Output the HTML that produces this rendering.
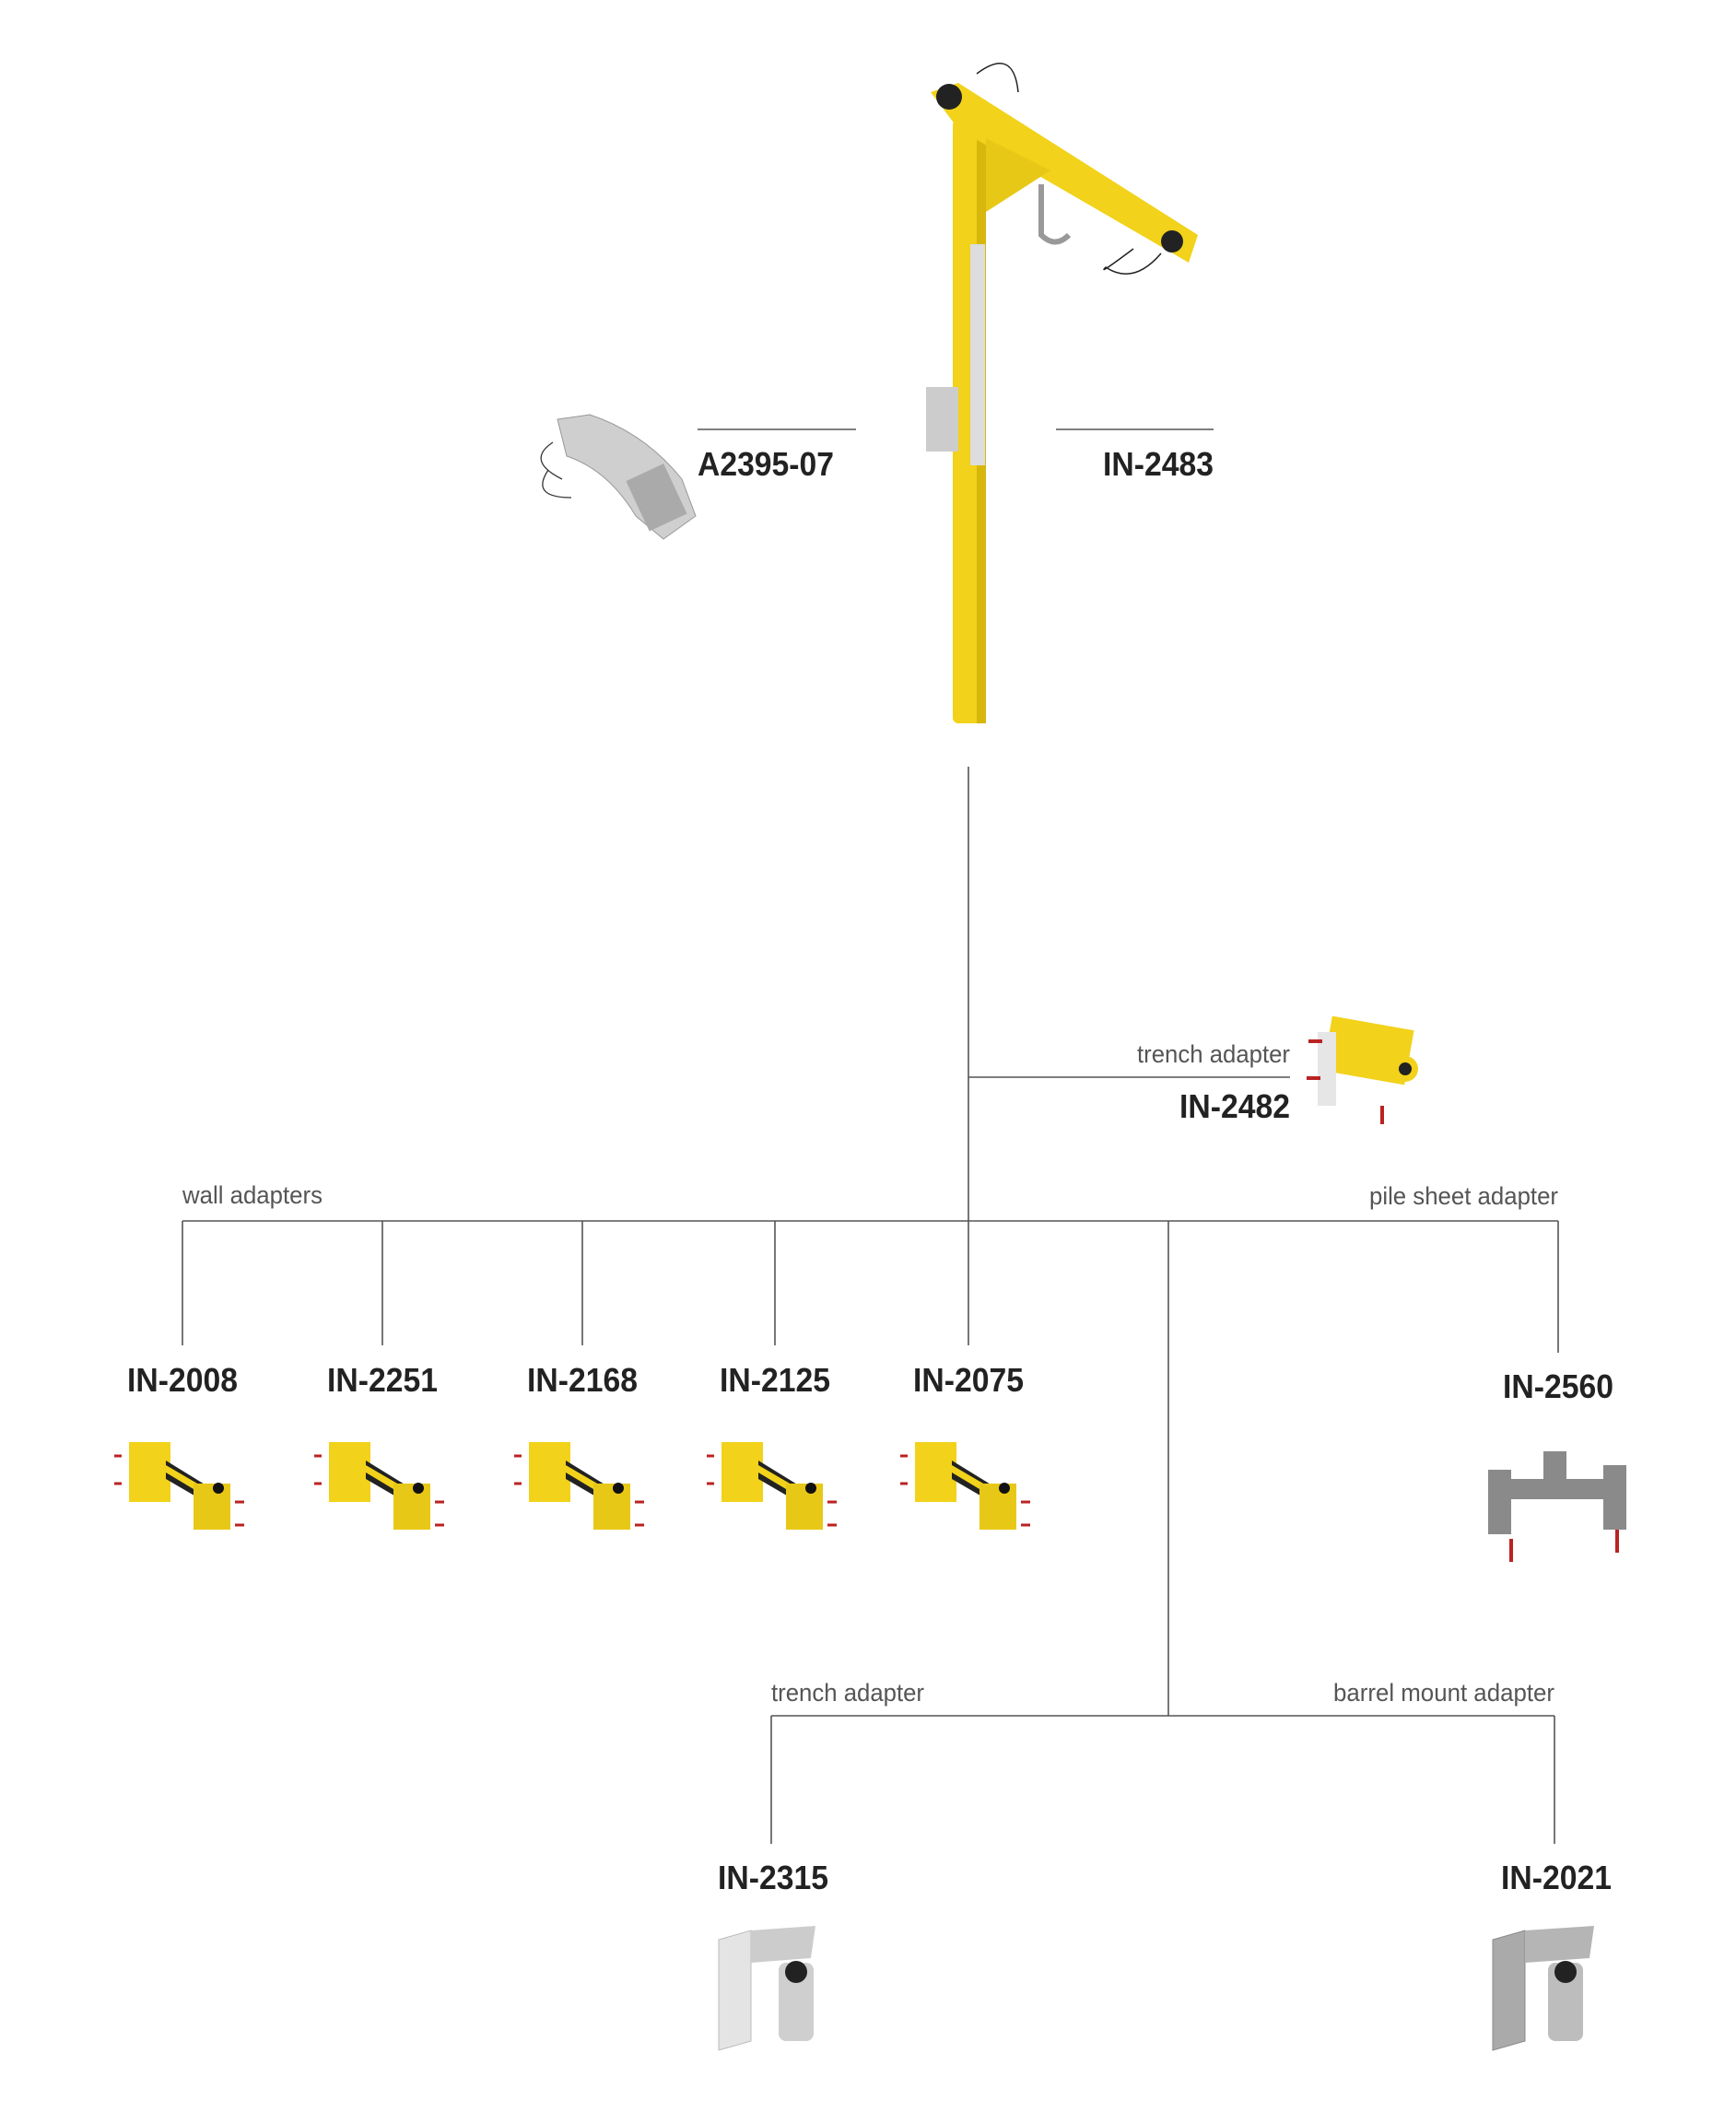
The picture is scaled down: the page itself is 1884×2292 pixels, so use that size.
<!DOCTYPE html>
<html><head><meta charset="utf-8"><style>
html,body{margin:0;padding:0;background:#fff;}
svg{display:block;}
.t{font-family:"Liberation Sans",sans-serif;font-size:27px;fill:#555;font-weight:300;}
.b{font-family:"Liberation Sans",sans-serif;font-size:36px;font-weight:bold;fill:#222;}
</style></head><body>
<svg width="1884" height="2292" viewBox="0 0 1884 2292" xmlns="http://www.w3.org/2000/svg">
<g stroke="#555" stroke-width="1.6" fill="none">
<line x1="757" y1="466" x2="929" y2="466"/>
<line x1="1146" y1="466" x2="1317" y2="466"/>
<line x1="1051" y1="832" x2="1051" y2="1460"/>
<line x1="1051" y1="1169" x2="1400" y2="1169"/>
<line x1="198" y1="1325" x2="1691" y2="1325"/>
<line x1="198" y1="1325" x2="198" y2="1460"/>
<line x1="415" y1="1325" x2="415" y2="1460"/>
<line x1="632" y1="1325" x2="632" y2="1460"/>
<line x1="841" y1="1325" x2="841" y2="1460"/>
<line x1="1691" y1="1325" x2="1691" y2="1468"/>
<line x1="1268" y1="1325" x2="1268" y2="1862"/>
<line x1="837" y1="1862" x2="1687" y2="1862"/>
<line x1="837" y1="1862" x2="837" y2="2001"/>
<line x1="1687" y1="1862" x2="1687" y2="2001"/>
</g>
<!-- pole -->
<g>
<rect x="1034" y="130" width="36" height="655" rx="6" fill="#f2d21a"/>
<rect x="1060" y="130" width="10" height="655" fill="#d8b70c"/>
<polygon points="1010,100 1040,90 1300,255 1290,285 1040,140" fill="#f2d21a"/>
<polygon points="1070,150 1140,185 1070,230" fill="#e8c816"/>
<circle cx="1030" cy="105" r="14" fill="#222"/>
<circle cx="1272" cy="262" r="12" fill="#222"/>
<rect x="1053" y="265" width="16" height="240" fill="#ddd"/>
<rect x="1005" y="420" width="35" height="70" fill="#ccc"/>
<path d="M1130 200 v55 q15 15 30 0" stroke="#999" stroke-width="6" fill="none"/>
<path d="M1060 80 q40 -30 45 20" stroke="#222" stroke-width="1.5" fill="none"/>
<path d="M1230 270 q-40 30 -30 20 q30 20 60 -15" stroke="#222" stroke-width="1.5" fill="none"/>
</g>
<!-- A2395-07 -->
<g>
<path d="M605 455 L640 450 Q700 470 740 520 L755 560 L720 585 L690 560 Q660 510 615 495 Z" fill="#cfcfcf" stroke="#999"/>
<rect x="690" y="510" width="45" height="60" fill="#aaa" transform="rotate(-25 712 540)"/>
<path d="M600 480 q-30 20 10 40 M595 510 q-20 30 25 30" stroke="#333" stroke-width="1.3" fill="none"/>
</g>
<!-- trench adapter top -->
<g>
<rect x="1440" y="1110" width="90" height="60" fill="#f2d21a" transform="rotate(10 1485 1140)"/>
<rect x="1430" y="1120" width="20" height="80" fill="#e6e6e6"/>
<circle cx="1525" cy="1160" r="14" fill="#f2d21a"/><circle cx="1525" cy="1160" r="7" fill="#222"/>
<path d="M1420 1130 h15 M1418 1170 h15 M1500 1200 v20" stroke="#b22" stroke-width="4"/>
</g>
<!-- wall adapter icons -->
<g id="wa">
<rect x="140" y="1565" width="45" height="65" fill="#f2d21a"/>
<polygon points="180,1585 245,1625 240,1640 180,1605" fill="#222"/>
<polygon points="180,1590 245,1628 240,1634 180,1598" fill="#f2d21a"/>
<rect x="210" y="1610" width="40" height="50" fill="#e8c816"/>
<circle cx="237" cy="1615" r="6" fill="#111"/>
<path d="M132 1580 h-8 M132 1610 h-8 M255 1630 h10 M255 1655 h10" stroke="#b22" stroke-width="3"/>
</g>
<use href="#wa" x="217"/>
<use href="#wa" x="434"/>
<use href="#wa" x="643"/>
<use href="#wa" x="853"/>
<!-- IN-2560 -->
<g fill="#8a8a8a">
<rect x="1625" y="1605" width="130" height="22"/>
<rect x="1615" y="1595" width="25" height="70"/>
<rect x="1740" y="1590" width="25" height="70"/>
<rect x="1675" y="1575" width="25" height="30"/>
<path d="M1640 1670 v25 M1755 1660 v25" stroke="#b22" stroke-width="4"/>
</g>
<!-- IN-2315 / IN-2021 -->
<g>
<polygon points="780,2105 815,2095 815,2215 780,2225" fill="#e4e4e4" stroke="#bbb"/>
<rect x="845" y="2130" width="38" height="85" rx="8" fill="#cfcfcf"/>
<circle cx="864" cy="2140" r="12" fill="#222"/>
<polygon points="815,2095 885,2090 880,2125 815,2130" fill="#ccc"/>
</g>
<g>
<polygon points="1620,2105 1655,2095 1655,2215 1620,2225" fill="#aaa" stroke="#888"/>
<rect x="1680" y="2130" width="38" height="85" rx="8" fill="#bdbdbd"/>
<circle cx="1699" cy="2140" r="12" fill="#222"/>
<polygon points="1655,2095 1730,2090 1725,2125 1655,2130" fill="#b5b5b5"/>
</g>
<!-- text -->
<text class="b" x="757" y="516" textLength="148" lengthAdjust="spacingAndGlyphs">A2395-07</text>
<text class="b" x="1317" y="516" text-anchor="end" textLength="120" lengthAdjust="spacingAndGlyphs">IN-2483</text>
<text class="t" x="1400" y="1153" text-anchor="end" textLength="166" lengthAdjust="spacingAndGlyphs">trench adapter</text>
<text class="b" x="1400" y="1213" text-anchor="end" textLength="120" lengthAdjust="spacingAndGlyphs">IN-2482</text>
<text class="t" x="198" y="1306" textLength="152" lengthAdjust="spacingAndGlyphs">wall adapters</text>
<text class="t" x="1691" y="1307" text-anchor="end" textLength="205" lengthAdjust="spacingAndGlyphs">pile sheet adapter</text>
<text class="b" x="198" y="1510" text-anchor="middle" textLength="120" lengthAdjust="spacingAndGlyphs">IN-2008</text>
<text class="b" x="415" y="1510" text-anchor="middle" textLength="120" lengthAdjust="spacingAndGlyphs">IN-2251</text>
<text class="b" x="632" y="1510" text-anchor="middle" textLength="120" lengthAdjust="spacingAndGlyphs">IN-2168</text>
<text class="b" x="841" y="1510" text-anchor="middle" textLength="120" lengthAdjust="spacingAndGlyphs">IN-2125</text>
<text class="b" x="1051" y="1510" text-anchor="middle" textLength="120" lengthAdjust="spacingAndGlyphs">IN-2075</text>
<text class="b" x="1691" y="1517" text-anchor="middle" textLength="120" lengthAdjust="spacingAndGlyphs">IN-2560</text>
<text class="t" x="837" y="1846" textLength="166" lengthAdjust="spacingAndGlyphs">trench adapter</text>
<text class="t" x="1687" y="1846" text-anchor="end" textLength="240" lengthAdjust="spacingAndGlyphs">barrel mount adapter</text>
<text class="b" x="839" y="2050" text-anchor="middle" textLength="120" lengthAdjust="spacingAndGlyphs">IN-2315</text>
<text class="b" x="1689" y="2050" text-anchor="middle" textLength="120" lengthAdjust="spacingAndGlyphs">IN-2021</text>
</svg>
</body></html>
